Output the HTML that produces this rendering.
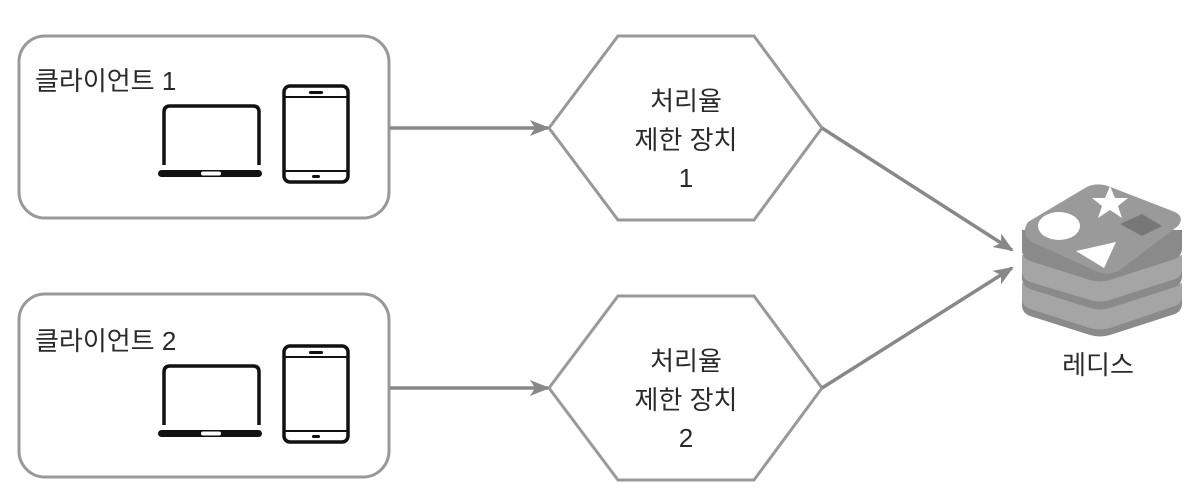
<!DOCTYPE html>
<html><head><meta charset="utf-8"><style>
body{margin:0;background:#fff;width:1202px;height:502px;overflow:hidden}
svg{display:block}
text{font-family:"Liberation Sans","Noto Sans CJK KR",sans-serif;fill:#2a2a2a;font-size:26px}
</style></head><body>
<svg width="1202" height="502" viewBox="0 0 1202 502">
<defs>
<marker id="ah" markerWidth="20" markerHeight="16" refX="18" refY="8" orient="auto" markerUnits="userSpaceOnUse">
<path d="M0,0 L20,8 L0,16 L5,8 Z" fill="#888"/>
</marker>
</defs>
<g fill="none" stroke="#999" stroke-width="3">
<rect x="19" y="36" width="370" height="182" rx="26"/>
<rect x="19" y="294" width="370" height="183" rx="26"/>
<polygon points="549,128 618,36 754,36 822,128 754,220 618,220"/>
<polygon points="549,388 618,296 754,296 822,388 754,480 618,480"/>
</g>
<g stroke="#888" stroke-width="3.5" fill="none">
<line x1="390" y1="128" x2="548" y2="128" marker-end="url(#ah)"/>
<line x1="390" y1="388" x2="548" y2="388" marker-end="url(#ah)"/>
<line x1="822" y1="128" x2="1012" y2="250" marker-end="url(#ah)"/>
<line x1="822" y1="388" x2="1012" y2="268" marker-end="url(#ah)"/>
</g>
<text x="35" y="90">클라이언트 1</text>
<text x="35" y="350">클라이언트 2</text>
<g id="dev1">
<path d="M164,165 V112 Q164,106 170,106 H253 Q259,106 259,112 V165" fill="none" stroke="#111" stroke-width="3.5"/>
<rect x="158" y="170" width="104" height="7" rx="3.5" fill="#111"/>
<rect x="201" y="171.5" width="20" height="4" rx="2" fill="#fff"/>
<rect x="284" y="86" width="64" height="96" rx="6" fill="none" stroke="#111" stroke-width="3.5"/>
<line x1="284" y1="97" x2="348" y2="97" stroke="#111" stroke-width="2"/>
<line x1="284" y1="171" x2="348" y2="171" stroke="#111" stroke-width="2"/>
<rect x="309" y="91" width="14" height="3" rx="1.5" fill="#111"/>
<rect x="312" y="175" width="8" height="3" rx="1.5" fill="#111"/>
</g>
<use href="#dev1" transform="translate(0,260)"/>
<g text-anchor="middle">
<text x="686" y="110">처리율</text>
<text x="686" y="149">제한 장치</text>
<text x="686" y="187">1</text>
<text x="686" y="370">처리율</text>
<text x="686" y="409">제한 장치</text>
<text x="686" y="447">2</text>
<text x="1098" y="374">레디스</text>
</g>
<g>
<path d="M1022,290 L1022,305 Q1022,313 1030,316 L1090,335 Q1100,338 1110,335 L1175,314 Q1182,311 1182,303 L1182,290 Z" fill="#8a8a8a"/>
<path d="M1022,283 L1100,306 L1182,283 L1182,297 Q1182,303 1175,306 L1110,328 Q1100,331 1090,328 L1030,309 Q1022,306 1022,298 Z" fill="#a5a5a5"/>
<path d="M1022,262 L1022,278 Q1022,286 1030,289 L1090,308 Q1100,311 1110,308 L1175,287 Q1182,284 1182,276 L1182,262 Z" fill="#8a8a8a"/>
<path d="M1022,255 L1100,278 L1182,255 L1182,270 Q1182,276 1175,279 L1110,300 Q1100,303 1090,300 L1030,282 Q1022,279 1022,271 Z" fill="#a5a5a5"/>
<path d="M1022,230 L1022,250 Q1022,258 1030,261 L1090,280 Q1100,283 1110,280 L1175,259 Q1182,256 1182,248 L1182,230 Z" fill="#8a8a8a"/>
<path d="M1028,222 L1085,188 Q1095,182 1108,186 L1175,212 Q1185,217 1178,226 L1120,270 Q1110,276 1098,272 L1032,242 Q1020,234 1028,222 Z" fill="#9a9a9a"/>
<ellipse cx="1059" cy="226" rx="21" ry="14" fill="#fff"/>
<polygon points="1110,186 1115,198 1128,198 1118,206 1122,218 1110,210 1098,218 1102,206 1092,198 1105,198" fill="#fff"/>
<polygon points="1076,251 1116,242 1104,268" fill="#fff"/>
<polygon points="1120,224 1142,214 1162,226 1142,236" fill="#777"/>
</g>
</svg>
</body></html>
